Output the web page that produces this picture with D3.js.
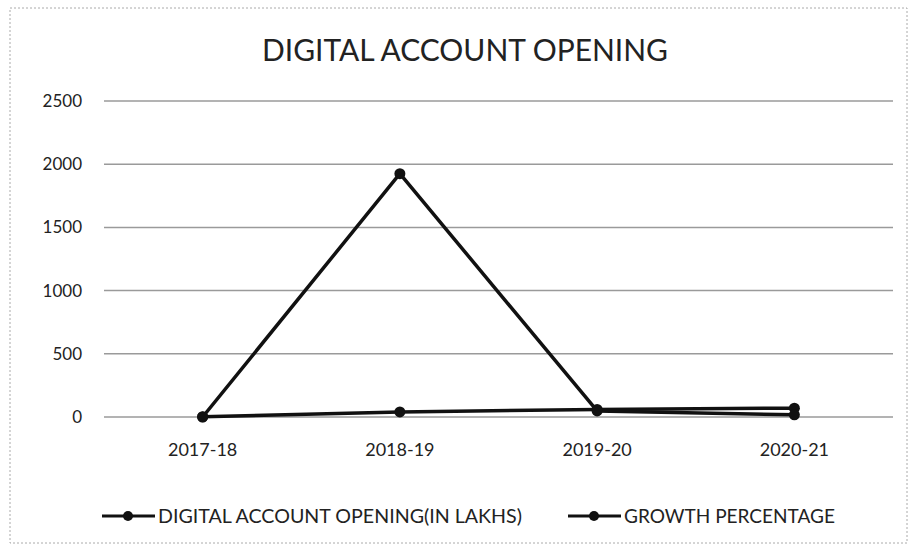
<!DOCTYPE html>
<html>
<head>
<meta charset="utf-8">
<script src="https://cdn.jsdelivr.net/npm/d3@7"></script>
<style>
  html, body { margin: 0; padding: 0; background: #fff; }
  svg { display: block; }
  text { font-family: Lato, "Open Sans", "Liberation Sans", sans-serif; fill: #222; }
</style>
</head>
<body>
<svg id="chart" width="913" height="549"></svg>
<script>
// Financial years on the x axis
const years = ["2017-18", "2018-19", "2019-20", "2020-21"];
// Digital account opening, in lakhs
const accountOpening = [2, 40.5, 60, 70];
// Year-on-year growth, in percent
const growthPercentage = [0, 1925, 48, 17];
// Y axis ticks
const yTicks = [0, 500, 1000, 1500, 2000, 2500];

const seriesNames = ["DIGITAL ACCOUNT OPENING(IN LAKHS)", "GROWTH PERCENTAGE"];

const svg = d3.select("#chart");
const plot = { left: 104, right: 893, top: 101, bottom: 417 };

// outer frame
svg.append("rect")
  .attr("x", 10).attr("y", 8).attr("width", 897).attr("height", 535)
  .attr("fill", "none").attr("stroke", "#aaa").attr("stroke-width", 1)
  .attr("stroke-dasharray", "2,2");

// title
svg.append("text")
  .attr("x", 262).attr("y", 61)
  .attr("textLength", 406)
  .attr("lengthAdjust", "spacingAndGlyphs")
  .style("font-size", "30px")
  .text("DIGITAL ACCOUNT OPENING");

const x = d3.scaleBand().domain(years).range([plot.left, plot.right]);
const y = d3.scaleLinear().domain([0, 2500]).range([plot.bottom, plot.top]);

// gridlines
svg.append("g")
  .selectAll("line")
  .data(yTicks)
  .join("line")
  .attr("x1", plot.left).attr("x2", plot.right)
  .attr("y1", d => y(d)).attr("y2", d => y(d))
  .attr("stroke", "#9a9a9a").attr("stroke-width", 1.5);

// y axis labels
const yAxis = d3.axisLeft(y).tickValues(yTicks).tickFormat(d3.format("d")).tickSize(0).tickPadding(0);
const gy = svg.append("g").attr("transform", "translate(82,0)").call(yAxis);
gy.select(".domain").remove();
gy.selectAll("text").style("font-size", "17px").attr("fill", "#222")
  .attr("font-family", null);

// x axis labels
const xAxis = d3.axisBottom(x).tickSize(0).tickPadding(0);
const gx = svg.append("g").attr("transform", "translate(0,443)").call(xAxis);
gx.select(".domain").remove();
gx.selectAll("text").style("font-size", "18px").attr("fill", "#222")
  .attr("font-family", null);

const cx = d => x(d) + x.bandwidth() / 2;
const line = d3.line().x(d => cx(d.year)).y(d => y(d.value));

const series = [accountOpening, growthPercentage].map((vals, i) => ({
  name: seriesNames[i],
  points: years.map((yr, j) => ({ year: yr, value: vals[j] }))
}));

series.forEach(s => {
  svg.append("path")
    .datum(s.points)
    .attr("d", line)
    .attr("fill", "none")
    .attr("stroke", "#111")
    .attr("stroke-width", 3.5)
    .attr("stroke-linejoin", "round");
  svg.append("g")
    .selectAll("circle")
    .data(s.points)
    .join("circle")
    .attr("cx", d => cx(d.year))
    .attr("cy", d => y(d.value))
    .attr("r", 5.5)
    .attr("fill", "#111");
});

// legend
const legendItems = [
  { name: seriesNames[0], x0: 102, w: 364 },
  { name: seriesNames[1], x0: 568, w: 211 }
];
const ly = 516;
legendItems.forEach(it => {
  const g = svg.append("g");
  g.append("line")
    .attr("x1", it.x0).attr("x2", it.x0 + 53)
    .attr("y1", ly).attr("y2", ly)
    .attr("stroke", "#111").attr("stroke-width", 3);
  g.append("circle")
    .attr("cx", it.x0 + 26).attr("cy", ly).attr("r", 5)
    .attr("fill", "#111");
  g.append("text")
    .attr("x", it.x0 + 56).attr("y", ly + 7)
    .attr("textLength", it.w)
    .attr("lengthAdjust", "spacingAndGlyphs")
    .style("font-size", "19px")
    .text(it.name);
});
</script>
</body>
</html>
